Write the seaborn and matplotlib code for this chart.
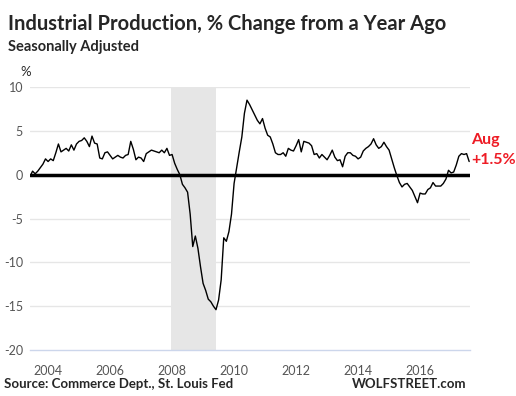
import numpy as np
import pandas as pd
import matplotlib
matplotlib.use("Agg")
import matplotlib.pyplot as plt
import seaborn as sns

# monthly % change from a year ago, Jun 2003 .. Aug 2017
ip_yoy = [
    -0.2, 0.4, 0.1, 0.4, 0.8, 1.2, 1.8,                                   # 2003 Jun-Dec
    1.5, 1.8, 1.6, 2.5, 3.5, 2.6, 2.8, 3.0, 2.7, 3.4, 2.8, 3.5,           # 2004
    3.8, 3.9, 4.2, 3.8, 3.2, 4.4, 3.6, 3.5, 1.9, 1.8, 2.5, 2.6,           # 2005
    2.2, 1.8, 2.0, 2.2, 2.0, 1.9, 2.2, 2.3, 3.8, 2.9, 1.7, 2.0,           # 2006
    1.9, 1.5, 2.4, 2.6, 2.8, 2.7, 2.6, 2.5, 2.8, 2.5, 3.0, 2.2,           # 2007
    2.3, 1.3, 0.6, 0.0, -1.1, -1.5, -2.0, -4.5, -8.2, -7.0, -8.4, -10.5,  # 2008
    -12.4, -13.2, -14.2, -14.5, -15.0, -15.4, -14.3, -12.0, -7.2, -7.6, -6.5, -4.5,  # 2009
    -1.0, 0.8, 2.6, 4.3, 7.0, 8.5, 8.0, 7.4, 6.8, 6.2, 5.8, 6.4,          # 2010
    5.3, 4.5, 4.3, 3.5, 2.5, 2.3, 2.3, 2.5, 2.1, 3.0, 2.8, 2.7,           # 2011
    3.3, 4.0, 2.6, 3.8, 3.7, 3.6, 3.3, 2.3, 2.4, 1.9, 2.3, 2.0,           # 2012
    1.7, 2.2, 2.8, 2.0, 1.6, 1.7, 0.9, 2.1, 2.5, 2.5, 2.2, 2.1,           # 2013
    1.8, 2.0, 2.7, 3.0, 3.2, 3.5, 4.1, 3.4, 3.0, 3.2, 3.7, 3.2,           # 2014
    2.8, 1.8, 0.8, -0.1, -0.9, -1.4, -1.1, -1.0, -1.4, -1.8, -2.5, -3.2,  # 2015
    -2.1, -2.2, -2.2, -1.7, -1.5, -0.9, -1.3, -1.3, -1.3, -1.0, -0.5, 0.5,  # 2016
    0.2, 0.3, 1.1, 2.1, 2.4, 2.3, 2.4, 1.5,                               # 2017 Jan-Aug
]
start_year = 2003 + 5 / 12   # June 2003
recession = (2007.95, 2009.43)
year_ticks = [2004, 2006, 2008, 2010, 2012, 2014, 2016]
y_ticks = [-20, -15, -10, -5, 0, 5, 10]

df = pd.DataFrame({"year": start_year + np.arange(len(ip_yoy)) / 12, "yoy": ip_yoy})

sns.set_style("white")
plt.rcParams["font.family"] = ["Lato", "DejaVu Sans"]
plt.rcParams["axes.unicode_minus"] = False

fig = plt.figure(figsize=(5.16, 3.96), dpi=100)
ax = fig.add_axes([30 / 516, 1 - 350 / 396, 440 / 516, 263 / 396])

ax.axvspan(*recession, color="#e6e6e6", lw=0, zorder=0)
for v in y_ticks:
    if v not in (0, -20):
        ax.axhline(v, color="#e6e6e6", lw=1, zorder=1)
ax.axhline(0, color="black", lw=2.5, zorder=2)

sns.lineplot(data=df, x="year", y="yoy", ax=ax, color="black", lw=1.0, zorder=3)

ax.set_xlim(start_year, 2017.61)
ax.set_ylim(-20, 10)
ax.set_xticks(year_ticks)
ax.set_yticks(y_ticks)
ax.set_xlabel("")
ax.set_ylabel("")
for s in ["top", "right", "left"]:
    ax.spines[s].set_visible(False)
ax.spines["bottom"].set_color("#ccd6eb")
ax.spines["bottom"].set_linewidth(1)
ax.tick_params(axis="x", length=8, color="#ccd6eb", labelsize=9, labelcolor="#555555", pad=3)
ax.tick_params(axis="y", length=0, labelsize=9, labelcolor="#555555", pad=5)

fig.text(8 / 516, 1 - 24 / 396, "Industrial Production, % Change from a Year Ago",
         fontsize=14.5, fontweight="bold", va="center", ha="left")
fig.text(8 / 516, 1 - 47 / 396, "Seasonally Adjusted",
         fontsize=10.5, fontweight="bold", va="center", ha="left")
fig.text(20 / 516, 1 - 72 / 396, "%", fontsize=9.5, va="center", ha="left")
fig.text(471 / 516, 1 - 140 / 396, "Aug", color="#ee1c25", fontsize=11.5,
         fontweight="bold", va="center", ha="left")
fig.text(471 / 516, 1 - 160 / 396, "+1.5%", color="#ee1c25", fontsize=11.5,
         fontweight="bold", va="center", ha="left")
fig.text(4 / 516, 1 - 384 / 396, "Source: Commerce Dept., St. Louis Fed",
         fontsize=9.5, fontweight="bold", va="center", ha="left")
fig.text(466 / 516, 1 - 384 / 396, "WOLFSTREET.com",
         fontsize=9.5, fontweight="bold", va="center", ha="right")

fig.savefig("out.png", dpi=100)
